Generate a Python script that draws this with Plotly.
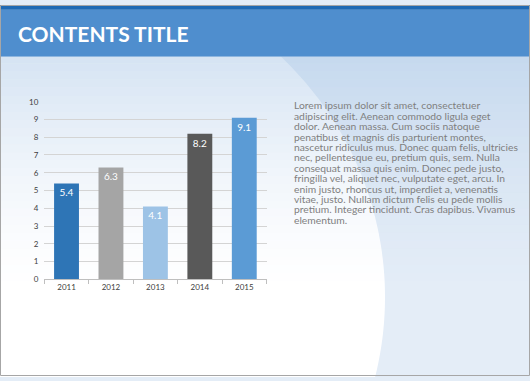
import math
import plotly.graph_objects as go

W, H = 530, 381

years = ["2011", "2012", "2013", "2014", "2015"]
values = [5.4, 6.3, 4.1, 8.2, 9.1]
bar_colors = ["#2E75B6", "#A5A5A5", "#9DC3E6", "#595959", "#5B9BD5"]
y_ticks = [0, 1, 2, 3, 4, 5, 6, 7, 8, 9, 10]
title_text = "CONTENTS TITLE"
body_lines = [
    "Lorem ipsum dolor sit amet, consectetuer",
    "adipiscing elit. Aenean commodo ligula eget",
    "dolor. Aenean massa. Cum sociis natoque",
    "penatibus et magnis dis parturient montes,",
    "nascetur ridiculus mus. Donec quam felis, ultricies",
    "nec, pellentesque eu, pretium quis, sem. Nulla",
    "consequat massa quis enim. Donec pede justo,",
    "fringilla vel, aliquet nec, vulputate eget, arcu. In",
    "enim justo, rhoncus ut, imperdiet a, venenatis",
    "vitae, justo. Nullam dictum felis eu pede mollis",
    "pretium. Integer tincidunt. Cras dapibus. Vivamus",
    "elementum.",
]


def px_x(x):
    return x / W


def px_y(y):
    return 1 - y / H


fig = go.Figure()
fig.add_trace(go.Bar(
    x=years, y=values,
    marker=dict(color=bar_colors, line=dict(width=0)),
    width=0.56,
    text=[f"{v:.1f}" for v in values],
    textposition="inside",
    insidetextanchor="end",
    textangle=0,
    textfont=dict(color="white", size=10, family="Lato"),
    hoverinfo="skip",
))

shapes = []
# light region bounded by a large arc (only below the title band)
cx, cy, r = 40, 300, 345
pts = [(0, 53)]
steps = 60
for k in range(steps + 1):
    yy = 53 + (H + 1 - 53) * k / steps
    dx = math.sqrt(max(r * r - (yy - cy) ** 2, 0))
    pts.append((cx + dx, yy))
pts.append((0, H + 1))
path = "M " + " L ".join(f"{px_x(x):.5f},{px_y(y):.5f}" for x, y in pts) + " Z"
shapes.append(dict(type="path", xref="paper", yref="paper", path=path,
                   fillcolor="white", line=dict(width=0), layer="below"))
# vertical blue tint gradient
n = 30
top, bottom = 52, 300
for i in range(n):
    y0 = top + (bottom - top) * i / n
    y1 = top + (bottom - top) * (i + 1) / n
    op = 0.42 * (1 - i / n) ** 1.6
    shapes.append(dict(type="rect", xref="paper", yref="paper",
                       x0=0, x1=1, y0=px_y(y1), y1=px_y(y0),
                       fillcolor="#9DBEE3", opacity=op, line=dict(width=0), layer="below"))
# title band and top strip
shapes.append(dict(type="rect", xref="paper", yref="paper",
                   x0=0, x1=1, y0=px_y(53), y1=px_y(5),
                   fillcolor="#4F8ECE", line=dict(width=0), layer="above"))
shapes.append(dict(type="rect", xref="paper", yref="paper",
                   x0=0, x1=1, y0=px_y(5), y1=1,
                   fillcolor="#1F6AB4", line=dict(width=0), layer="above"))
# border
shapes.append(dict(type="rect", xref="paper", yref="paper",
                   x0=px_x(0.5), x1=px_x(W - 0.5), y0=px_y(H - 0.5), y1=px_y(0.5),
                   line=dict(color="#A6A6A6", width=1), layer="above"))

annotations = [dict(text="<b>" + title_text + "</b>", xref="paper", yref="paper",
                    x=px_x(16), y=px_y(29), xanchor="left", yanchor="middle",
                    showarrow=False, font=dict(family="Lato", size=21, color="white"))]
line_h = 10.7
for i, ln in enumerate(body_lines):
    annotations.append(dict(text=ln, xref="paper", yref="paper",
                            x=px_x(292), y=px_y(103 + i * line_h), xanchor="left", yanchor="middle",
                            showarrow=False, font=dict(family="Lato", size=10.3, color="#7F7F7F")))

fig.update_layout(
    width=W, height=H,
    margin=dict(l=0, r=0, t=0, b=0),
    paper_bgcolor="#E4EDF7",
    plot_bgcolor="rgba(0,0,0,0)",
    showlegend=False,
    bargap=0.44,
    shapes=shapes,
    annotations=annotations,
    xaxis=dict(domain=[px_x(44.3), px_x(266.5)], type="category",
               showgrid=False, showline=True, linecolor="#BFBFBF", linewidth=1,
               ticks="outside", tickson="boundaries", ticklen=4, tickcolor="#BFBFBF",
               tickfont=dict(family="Lato", size=8, color="#404040"), fixedrange=True),
    yaxis=dict(domain=[px_y(281.7), px_y(99.3)], range=[0, 10], tickvals=y_ticks,
               showgrid=True, gridcolor="#D4D4D4", gridwidth=1, zeroline=False,
               showline=False, ticks="", ticklabelstandoff=5,
               tickfont=dict(family="Lato", size=8, color="#404040"), fixedrange=True),
)

post = (
    "document.body.style.margin='0';"
    "document.body.style.overflow='hidden';"
    "document.body.style.background='#1F6AB4';"
    "var d=document.getElementsByClassName('plotly-graph-div')[0];"
    "d.style.position='fixed';d.style.top='0px';d.style.left='0px';"
)
fig.write_html("out.html", config={"displayModeBar": False}, post_script=post)
